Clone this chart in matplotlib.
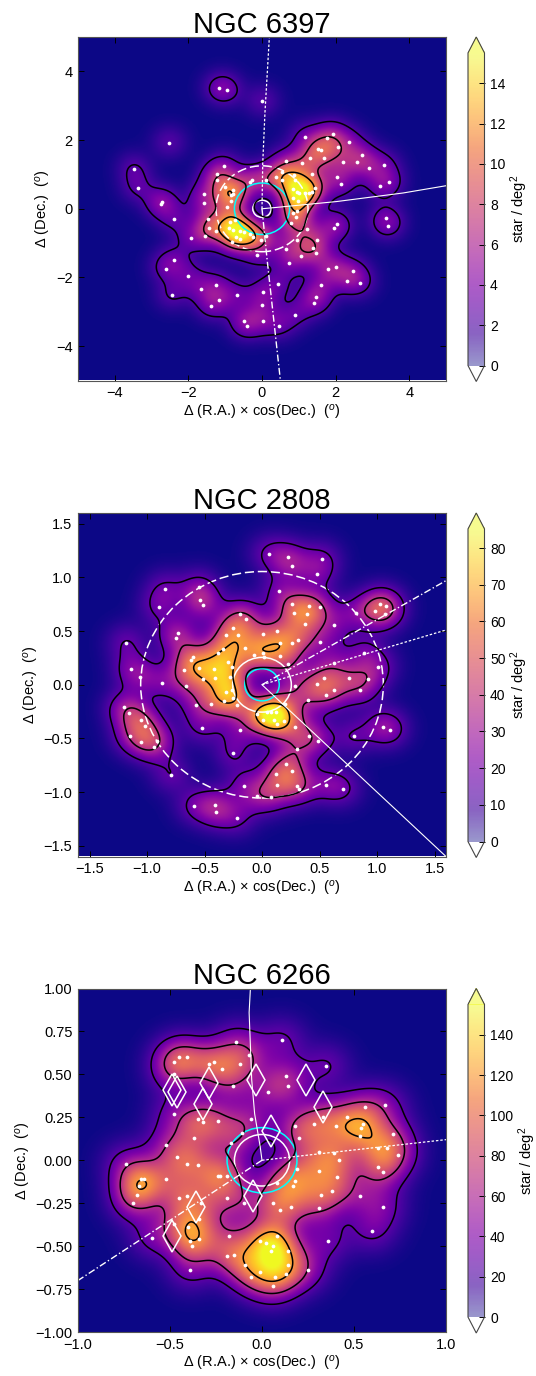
import numpy as np
import matplotlib
matplotlib.use('Agg')
import matplotlib.pyplot as plt
from matplotlib.cm import ScalarMappable
from matplotlib.colors import Normalize, ListedColormap
from matplotlib.patches import Circle

plt.rcParams['font.family'] = ['Liberation Sans', 'DejaVu Sans']
plt.rcParams['mathtext.fontset'] = 'custom'
plt.rcParams['mathtext.rm'] = 'Liberation Sans'
plt.rcParams['mathtext.it'] = 'Liberation Sans:italic'
plt.rcParams['mathtext.bf'] = 'Liberation Sans:bold'

# star positions (deg)
x_6397 = [-1.16, -0.96, 0.01, -2.52, 1.18, 1.77, 1.92, 2.37, 2.06, 1.52, 1.61, 1.30, 1.68, 2.73, 2.19, 2.59, 1.10, 0.65,
          3.32, 2.91, -1.02, -1.23, -1.23, -3.48, -3.38, -2.75, -2.71, -2.39, -1.57, -1.57, -1.00, -0.79, -0.83, -0.78,
          -0.83, -0.94, -1.48, -1.44, -1.26, -1.55, -1.94, -0.87, -0.74, -0.90, -0.80, -0.71, -0.60, -0.49, -0.60, -0.81,
          -0.33, -0.25, -0.04, 0.11, -0.28, -0.33, 0.11, 0.38, 0.53, 0.54, 0.87, 0.89, 1.37, 0.85, 0.94, 1.00, 1.17, 0.85,
          0.99, 1.27, 1.44, 1.37, 2.03, 2.16, 3.22, 3.46, 0.83, 0.96, 0.92, 3.36, 3.43, 2.03, 1.97, 0.80, 1.21, 0.96, 1.50,
          0.65, 1.38, 1.48, 1.07, -0.14, 0.73, 1.80, 2.00, 2.46, 2.30, 2.66, 1.59, 0.44, 1.48, 1.40, 0.03, 0.01, 0.90, 0.02,
          0.46, -0.50, -0.40, -1.39, -1.17, -0.69, -1.65, -1.24, -2.00, -2.45, -2.62, -2.40]
y_6397 = [3.52, 3.46, 3.13, 1.92, 2.10, 2.05, 2.19, 1.95, 1.80, 1.75, 1.70, 1.48, 1.49, 1.56, 1.35, 1.36, 1.34, 1.40,
          1.28, 1.20, 1.24, 1.00, 0.84, 1.16, 0.61, 0.14, 0.20, -0.31, 0.42, 0.17, 0.64, 0.55, 0.41, 0.42,
          0.22, 0.04, -0.29, -0.55, -0.65, -0.79, -0.86, -0.40, -0.34, -0.55, -0.62, -0.81, -0.66, -0.68, -0.89, -0.97,
          -0.73, -0.83, -0.91, -0.79, 0.85, 0.77, 0.83, 0.91, 1.06, 0.83, 0.98, 0.85, 1.01, 0.57, 0.48, 0.46, 0.46, 0.31,
          0.24, 0.46, 0.61, 0.50, 0.92, 0.71, 0.67, 0.78, -0.13, -0.08, -0.24, -0.28, -0.49, -0.44, -0.56, -0.41, -0.58, -0.91, -0.91,
          -1.17, -1.13, -1.30, -1.38, -1.35, -1.59, -1.76, -1.69, -1.82, -2.10, -2.15, -2.23, -2.20, -2.58, -2.73, -2.42, -2.79, -3.08, -3.26,
          -3.40, -3.26, -3.40, -2.84, -2.66, -2.52, -2.33, -2.21, -1.95, -2.51, -1.74, -1.50]

x_2808 = [0.06, 0.23, 0.26, 0.52, 0.48, -0.84, -0.55, -0.54, -0.51, -0.90, 0.15, 0.26, 0.41, 0.50, 0.28, 0.39, 0.37, 0.63,
          0.82, 1.03, 1.08, 0.98, 1.07, -0.19, -0.14, -0.73, -0.75, -1.18, -0.25, -0.31, -0.21, 0.01, 0.13, 0.16, 0.26, 0.31,
          0.50, -0.15, -0.34, -0.38, -0.60, -0.62, -0.07, 0.01, 0.02, 0.16, 0.89, 0.63, 0.23, 1.01, -0.68, -0.55, -1.14, -1.06,
          -0.87, -0.66, -0.51, -0.42, -0.41, -0.30, -0.26, -0.28, -0.31, -0.26, -0.25, -0.33, -0.22, -0.57, -0.44, 0.29, 0.54,
          0.48, 0.56, 0.63, 0.76, 0.92, 0.85, 0.40, 0.20, -0.04, 0.04, 0.08, 0.12, 0.01, 0.10, 0.13, 0.19, 0.29, -0.19, -0.52,
          -1.20, -1.16, -1.05, -1.02, -1.15, -1.05, -0.91, -0.94, 0.41, 0.49, 0.80, 1.05, 1.11, 0.30, -0.25, 0.21, 0.26, 0.12,
          0.13, 0.30, 0.32, -0.79, -0.16, 0.56, 0.70, -0.04, 0.08, -0.59, -0.41, -0.40, -0.22]
y_2808 = [1.22, 1.19, 1.11, 1.17, 1.03, 0.89, 0.91, 0.79, 0.74, 0.72, 0.87, 0.75, 0.73, 0.72, 0.67, 0.66, 0.57, 0.56,
          0.67, 0.75, 0.73, 0.69, 0.66, 0.66, 0.61, 0.48, 0.44, 0.39, 0.53, 0.46, 0.46, 0.47, 0.50, 0.39, 0.39, 0.42,
          0.40, 0.34, 0.33, 0.30, 0.26, 0.23, 0.28, 0.30, 0.26, 0.27, 0.30, 0.20, 0.19, 0.17, 0.14, 0.16, 0.15, 0.07,
          0.02, -0.01, 0.05, 0.15, 0.06, 0.21, 0.17, 0.07, -0.07, -0.05, -0.12, -0.15, -0.19, -0.19, -0.18, -0.01, 0.06,
          0.01, -0.10, -0.05, 0.06, 0.05, -0.05, -0.14, -0.18, -0.27, -0.25, -0.25, -0.25, -0.33, -0.33, -0.37, -0.34, -0.39, -0.42, -0.40,
          -0.21, -0.26, -0.33, -0.38, -0.48, -0.53, -0.52, -0.58, -0.48, -0.52, -0.48, -0.39, -0.42, -0.60, -0.64, -0.74, -0.80, -0.83,
          -0.93, -0.94, -0.97, -0.84, -0.94, -0.93, -0.97, -1.04, -1.05, -1.13, -1.12, -1.19, -1.24]

x_6266 = [-0.14, 0.11, -0.07, -0.45, -0.41, -0.48, -0.29, -0.26, -0.22, -0.12, 0.35, -0.48, 0.13, 0.14, -0.16, 0.03, 0.56, 0.67,
          -0.48, -0.35, -0.32, -0.24, -0.06, 0.33, 0.46, 0.28, 0.40, 0.18, 0.55, 0.54, 0.53, 0.71, 0.20, -0.37, -0.11, -0.52, -0.17,
          0.63, 0.68, 0.74, 0.31, 0.39, 0.42, -0.46, -0.41, -0.35, -0.74, 0.63, 0.66, 0.19, 0.31, 0.41, -0.24, -0.23, -0.19, -0.52,
          -0.66, -0.64, -0.67, -0.68, -0.70, 0.08, 0.18, 0.17, 0.38, 0.32, 0.53, -0.45, -0.41, -0.33, -0.19, -0.10, 0.06, 0.10, 0.16,
          0.31, 0.66, -0.34, -0.48, -0.40, -0.60, -0.34, -0.39, -0.38, -0.18, 0.60, 0.36, -0.01, 0.02, 0.08, 0.06, 0.05, 0.14, 0.14,
          -0.01, 0.13, 0.07, -0.06, 0.06, 0.25, -0.19, -0.15, -0.09, -0.39]
y_6266 = [0.69, 0.70, 0.61, 0.60, 0.60, 0.57, 0.56, 0.57, 0.53, 0.56, 0.55, 0.50, 0.49, 0.43, 0.43, 0.40, 0.31, 0.32,
          0.27, 0.24, 0.22, 0.23, 0.24, 0.25, 0.25, 0.21, 0.20, 0.20, 0.21, 0.19, 0.14, 0.15, 0.13, 0.13, 0.16, 0.09, 0.10,
          0.07, 0.07, 0.03, 0.05, 0.04, 0.00, 0.02, -0.02, -0.03, -0.02, -0.04, -0.07, -0.05, -0.06, -0.10, -0.09, -0.09, -0.09, -0.11,
          -0.11, -0.11, -0.15, -0.20, -0.25, -0.13, -0.12, -0.15, -0.18, -0.20, -0.21, -0.22, -0.21, -0.25, -0.22, -0.25, -0.25, -0.29, -0.27,
          -0.28, -0.27, -0.34, -0.37, -0.39, -0.45, -0.46, -0.47, -0.50, -0.44, -0.41, -0.47, -0.47, -0.48, -0.44, -0.50, -0.53, -0.53, -0.61,
          -0.65, -0.66, -0.68, -0.68, -0.73, -0.64, -0.56, -0.55, -0.61, -0.64]

# diamonds in the NGC 6266 panel
diamond_x = [-0.49, -0.46, -0.29, -0.32, -0.03, 0.24, 0.33, 0.05, -0.05, -0.36, -0.49]
diamond_y = [0.41, 0.40, 0.45, 0.33, 0.47, 0.47, 0.31, 0.17, -0.21, -0.27, -0.44]

# lines leaving the cluster centre
solid_6397 = ([0, 0.4, 2.03, 3.84, 5.0], [0, 0.04, 0.21, 0.46, 0.67])
dash_6397 = ([0, 0.13, 0.5], [0, -1.39, -5.0])
dot_6397 = ([0, 0.02, 0.08, 0.2], [0, 1.33, 2.79, 5.0])
solid_2808 = ([0, 1.6], [0, -1.6])
dash_2808 = ([0, 1.6], [0, 0.97])
dot_2808 = ([0, 1.6], [0, 0.51])
solid_6266 = ([0, -0.01, -0.04, -0.056, -0.07, -0.063], [0, 0.08, 0.27, 0.47, 0.86, 1.0])
dash_6266 = ([0, -1.0], [0, -0.7])
dot_6266 = ([0, 1.0], [0, 0.12])

DASHDOT = (0, (5, 1.8, 1, 1.8))
DOTTED = (0, (2, 1.5))
LONGDASH = (0, (6, 2.5))


def kde(xs, ys, gx, gy, h, weight):
    xs = np.array(xs)
    ys = np.array(ys)
    z = np.zeros_like(gx)
    for a, b in zip(xs, ys):
        z += np.exp(-((gx - a)**2 + (gy - b)**2) / (2 * h**2))
    return weight * z / (2 * np.pi * h**2)


def bar_cmap():
    # colorbar is washed out, more so at the low end
    t = np.linspace(0, 1, 256)
    rgba = plt.get_cmap('plasma')(t)
    rgba[:, 3] = np.interp(t, [0, 0.1, 0.7, 1], [0.42, 0.62, 0.72, 0.5])
    cmap = ListedColormap(rgba)
    cmap.set_under('w')
    return cmap


def draw_panel(top, name, xs, ys, lim, h, weight, levels, vmax, xticks, yticks, cticks, solid, dash, dot, radii):
    W, H = 536., 1376.
    ax = fig.add_axes([78/W, 1 - (top + 343.5)/H, 368/W, 343.5/H])
    g = np.linspace(-lim, lim, 400)
    gx, gy = np.meshgrid(g, g)
    z = kde(xs, ys, gx, gy, h, weight)
    ax.imshow(z, extent=[-lim, lim, -lim, lim], origin='lower', aspect='auto', cmap='plasma',
              vmin=0, vmax=vmax, interpolation='bilinear')
    ax.contour(gx, gy, z, levels=levels, colors='k', linewidths=1.1)
    ax.plot(xs, ys, 'o', color='w', ms=2.7, mew=0)
    ax.plot(solid[0], solid[1], '-', color='w', lw=0.8)
    ax.plot(dash[0], dash[1], ls=DASHDOT, color='w', lw=1.0)
    ax.plot(dot[0], dot[1], ls=DOTTED, color='w', lw=0.9)
    for r, c, ls in radii:
        ax.add_patch(Circle((0, 0), r, fill=False, ec=c, ls=ls, lw=1.1))
    ax.set_xlim(-lim, lim)
    ax.set_ylim(-lim, lim)
    ax.set_xticks(xticks)
    ax.set_yticks(yticks)
    ax.tick_params(direction='in', top=True, right=True, labelsize=10.5, length=4, width=0.7, pad=4)
    ax.set_title(name, fontsize=21, pad=3)
    ax.set_xlabel(r'$\Delta$ (R.A.)$\,\times\,$cos(Dec.)  ($^{\mathit{o}}$)', fontsize=10.5, labelpad=2)
    ax.set_ylabel(r'$\Delta$ (Dec.)  ($^{\mathit{o}}$)', fontsize=10.5, labelpad=2)
    for s in ax.spines.values():
        s.set_color('#555555')
        s.set_linewidth(0.8)

    cax = fig.add_axes([468/W, 1 - (top + 344.5)/H, 16.5/W, 344.5/H])
    sm = ScalarMappable(Normalize(0, vmax), bar_cmap())
    cb = fig.colorbar(sm, cax=cax, extend='both', extendfrac=0.051, ticks=cticks)
    cb.ax.tick_params(direction='in', length=4, width=0.7, labelsize=10, pad=4)
    cb.outline.set_edgecolor('#444444')
    cb.outline.set_linewidth(0.8)
    cb.set_label(r'star / deg$^2$', fontsize=10.5, labelpad=2)
    return ax


fig = plt.figure(figsize=(5.36, 13.76), dpi=100)

draw_panel(37, 'NGC 6397', x_6397, y_6397, 5.0, 0.32, 1.3, [2.1, 7.5, 11.5], 15.5,
           [-4, -2, 0, 2, 4], [-4, -2, 0, 2, 4], list(range(0, 15, 2)),
           solid_6397, dash_6397, dot_6397,
           [(0.25, 'w', '-'), (0.75, 'cyan', '-'), (1.25, 'w', LONGDASH)])
draw_panel(513, 'NGC 2808', x_2808, y_2808, 1.6, 0.12, 1.2, [14.5, 36, 66], 85.2,
           [-1.5, -1, -0.5, 0, 0.5, 1, 1.5], [-1.5, -1, -0.5, 0, 0.5, 1, 1.5], list(range(0, 81, 10)),
           solid_2808, dash_2808, dot_2808,
           [(0.255, 'w', '-'), (0.15, 'cyan', '-'), (1.055, 'w', LONGDASH)])
ax = draw_panel(988.5, 'NGC 6266', x_6266, y_6266, 1.0, 0.09, 1.3, [26, 65, 118], 155,
                [-1, -0.5, 0, 0.5, 1], np.arange(-1, 1.01, 0.25), list(range(0, 141, 20)),
                solid_6266, dash_6266, dot_6266,
                [(0.15, 'w', '-'), (0.19, 'cyan', '-')])
ax.plot(diamond_x, diamond_y, 'd', mfc='none', mec='w', ms=16, mew=1.1)

fig.savefig('out.png', dpi=100)
